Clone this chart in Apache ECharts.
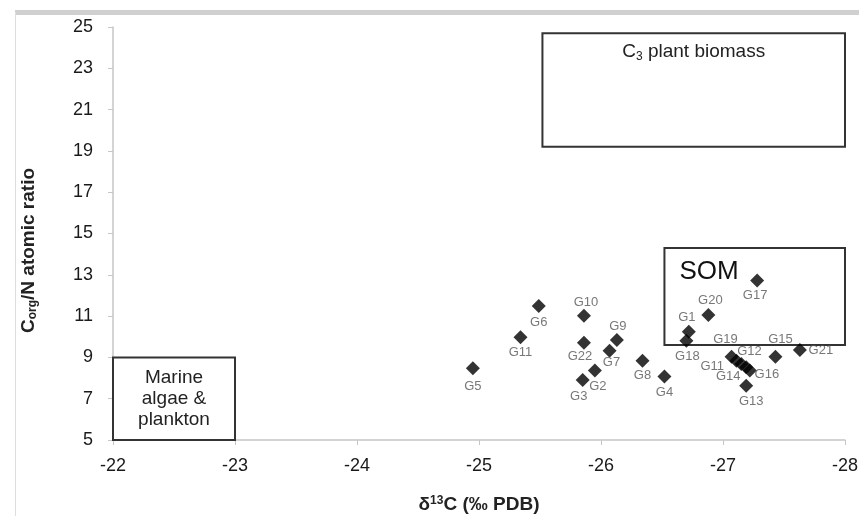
<!DOCTYPE html>
<html>
<head>
<meta charset="utf-8">
<script src="https://cdn.jsdelivr.net/npm/echarts@6/dist/echarts.min.js"></script>
<style>
  html, body { margin: 0; padding: 0; background: #fff; }
  #chart { width: 859px; height: 516px; }
</style>
</head>
<body>
<div id="chart"></div>
<script>
// sample data: d13C (permil PDB) and Corg/N atomic ratio
const sampleNames = ['G1', 'G2', 'G3', 'G4', 'G5', 'G6', 'G7', 'G8', 'G9', 'G10', 'G11',
  'G12', 'G13', 'G14', 'G15', 'G16', 'G17', 'G18', 'G19', 'G20', 'G21', 'G22', 'G11']
const d13C = [-26.72, -25.95, -25.85, -26.52, -24.95, -25.49, -26.07, -26.34, -26.13, -25.86, -25.34,
  -27.11, -27.19, -27.19, -27.43, -27.22, -27.28, -26.70, -27.07, -26.88, -27.63, -25.86, -27.15]
const cnRatio = [10.24, 8.36, 7.91, 8.07, 8.47, 11.49, 9.32, 8.84, 9.84, 11.02, 9.97,
  8.84, 7.63, 8.52, 9.03, 8.36, 12.73, 9.81, 9.03, 11.05, 9.36, 9.71, 8.68]

// source boxes [x1, x2, y1, y2]
const boxC3 = [-25.52, -28, 19.2, 24.7]
const boxSOM = [-26.52, -28, 9.6, 14.3]
const boxMarine = [-22, -23, 5, 9]

const xTicks = [-22, -23, -24, -25, -26, -27, -28]
const yTicks = [5, 7, 9, 11, 13, 15, 17, 19, 21, 23, 25]

// where each point label sits relative to its marker
const labelOffsets = [[-2, -14], [3, 16], [-4, 17], [0, 16], [0, 18], [0, 16], [2, 12], [0, 15], [1, -14], [2, -13], [0, 15],
  [13, -9], [5, 16], [-18, 9], [5, -17], [17, 4], [-2, 15], [1, 16], [-6, -17], [2, -15], [21, 0], [-4, 14], [-29, 2]]

const font = '"Liberation Sans", Arial, sans-serif'
const axisGray = '#c6c6c6'

const points = sampleNames.map((name, i) => ({
  name: name,
  value: [d13C[i], cnRatio[i]],
  label: { offset: labelOffsets[i] }
}))

function area(b) {
  return [{ coord: [b[0], b[2]] }, { coord: [b[1], b[3]] }]
}

const chart = echarts.init(document.getElementById('chart'))

const option = {
  animation: false,
  backgroundColor: '#fff',
  textStyle: { fontFamily: font },
  graphic: [
    { type: 'rect', shape: { x: 15, y: 10, width: 844, height: 5 }, style: { fill: '#d0d0d0' } },
    { type: 'line', shape: { x1: 15.5, y1: 12, x2: 15.5, y2: 516 }, style: { stroke: '#dedede', lineWidth: 1 } }
  ],
  grid: { left: 113, right: 14, top: 27, bottom: 76, outerBoundsMode: 'none' },
  xAxis: {
    type: 'value',
    min: -28,
    max: -22,
    interval: 1,
    inverse: true,
    name: '{b|δ}{sup|13}{b|C (‰ PDB)}',
    nameLocation: 'middle',
    nameGap: 55,
    nameTextStyle: {
      rich: {
        b: { fontSize: 19, fontWeight: 'bold', color: '#222', fontFamily: font },
        sup: { fontSize: 12, fontWeight: 'bold', color: '#222', fontFamily: font, padding: [0, 0, 8, 0] }
      }
    },
    axisLine: { lineStyle: { color: axisGray, width: 1.5 } },
    axisTick: { show: true, length: 5, lineStyle: { color: axisGray } },
    axisLabel: { fontSize: 18, color: '#1a1a1a', margin: 17, customValues: xTicks },
    splitLine: { show: false }
  },
  yAxis: {
    type: 'value',
    min: 5,
    max: 25,
    name: '{b|C}{s|org}{b|/N atomic ratio}',
    nameLocation: 'middle',
    nameGap: 74,
    nameRotate: 90,
    nameTextStyle: {
      padding: [0, 34, 0, 0],
      rich: {
        b: { fontSize: 19, fontWeight: 'bold', color: '#222', fontFamily: font },
        s: { fontSize: 12, fontWeight: 'bold', color: '#222', fontFamily: font, padding: [8, 0, 0, 0] }
      }
    },
    axisLine: { show: true, lineStyle: { color: axisGray, width: 1.5 } },
    axisTick: { show: true, length: 5, lineStyle: { color: axisGray }, customValues: yTicks },
    axisLabel: { fontSize: 18, color: '#1a1a1a', margin: 20, customValues: yTicks },
    splitLine: { show: false }
  },
  series: [
    {
      type: 'scatter',
      symbol: 'diamond',
      symbolSize: 14,
      itemStyle: { color: '#000' },
      data: points,
      z: 5,
      label: {
        show: true,
        position: 'inside',
        formatter: '{b}',
        fontSize: 13,
        color: '#555',
        fontFamily: font
      },
      markArea: {
        silent: true,
        itemStyle: { color: 'rgba(0,0,0,0)', borderColor: '#333', borderWidth: 2 },
        data: [
          [
            Object.assign({}, area(boxC3)[0], {
              label: {
                position: 'insideTop',
                distance: 10,
                formatter: '{a|C}{s|3}{a| plant biomass}',
                rich: {
                  a: { fontSize: 19, color: '#222', fontFamily: font },
                  s: { fontSize: 12, color: '#222', fontFamily: font, padding: [8, 0, 0, 0] }
                }
              }
            }),
            area(boxC3)[1]
          ],
          [
            Object.assign({}, area(boxSOM)[0], {
              label: {
                position: [16, 12],
                formatter: 'SOM',
                fontSize: 26,
                color: '#111',
                fontFamily: font
              }
            }),
            area(boxSOM)[1]
          ],
          [
            Object.assign({}, area(boxMarine)[0], {
              label: {
                position: 'inside',
                formatter: 'Marine\nalgae &\nplankton',
                fontSize: 19,
                lineHeight: 21,
                align: 'center',
                color: '#222',
                fontFamily: font
              }
            }),
            area(boxMarine)[1]
          ]
        ]
      }
    }
  ]
}

chart.setOption(option)
</script>
</body>
</html>
